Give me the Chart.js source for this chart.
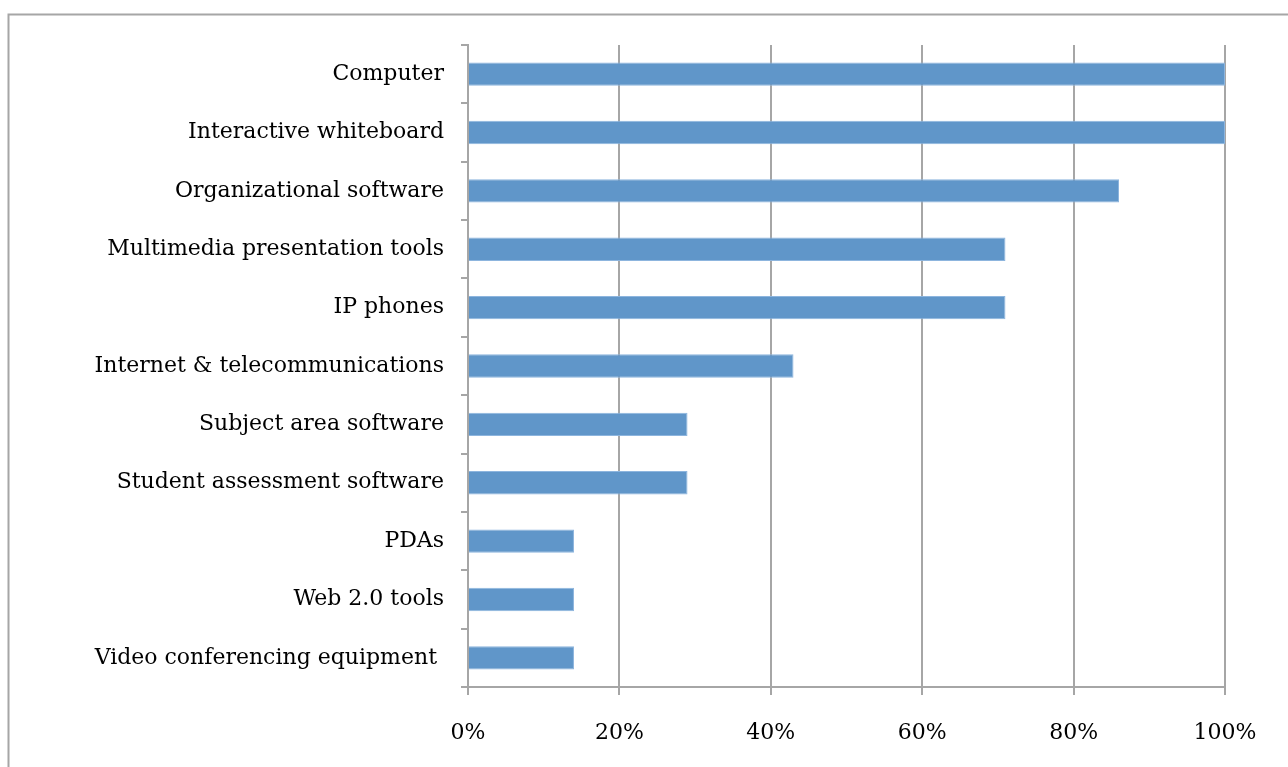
<!DOCTYPE html>
<html>
<head>
<meta charset="utf-8">
<script src="https://cdn.jsdelivr.net/npm/chart.js@4"></script>
<style>
    html, body { margin: 0; padding: 0; background: #fff; overflow: hidden; }
    #wrap { position: relative; width: 1288px; height: 767px; }
</style>
</head>
<body>
<div id="wrap"><canvas id="techChart" width="1288" height="767"></canvas></div>
<script>
// Technology use, share of respondents
const categories = [
    'Computer',
    'Interactive whiteboard',
    'Organizational software',
    'Multimedia presentation tools',
    'IP phones',
    'Internet & telecommunications',
    'Subject area software',
    'Student assessment software',
    'PDAs',
    'Web 2.0 tools',
    'Video conferencing equipment '
];
const shares = [100, 100, 86, 71, 71, 43, 29, 29, 14, 14, 14];
const tickValues = [0, 20, 40, 60, 80, 100];

const GRID = '#a6a6a6';
const FONT = { family: '"DejaVu Serif", serif', size: 22 };

// grey frame around the whole chart
const framePlugin = {
    id: 'frame',
    beforeDraw(chart) {
        const ctx = chart.ctx;
        ctx.save();
        ctx.strokeStyle = GRID;
        ctx.lineWidth = 2;
        ctx.strokeRect(8.5, 14.5, 1400, 900);
        ctx.restore();
    }
};

new Chart(document.getElementById('techChart'), {
    type: 'bar',
    data: {
        labels: categories,
        datasets: [{
            data: shares,
            backgroundColor: '#6096c9',
            borderColor: '#8db5de',
            borderWidth: 1,
            borderSkipped: 'left',
            barPercentage: 0.4,
            categoryPercentage: 1
        }]
    },
    options: {
        indexAxis: 'y',
        responsive: false,
        animation: false,
        layout: { padding: { top: 45, right: 63, left: 0, bottom: 0 } },
        plugins: { legend: { display: false }, tooltip: { enabled: false } },
        scales: {
            x: {
                min: 0,
                max: 100,
                afterBuildTicks: s => { s.ticks = tickValues.map(v => ({ value: v })); },
                afterFit: s => { s.height = 80; },
                ticks: {
                    color: '#000',
                    font: FONT,
                    padding: 25,
                    maxRotation: 0,
                    callback: v => v + '%'
                },
                grid: { color: GRID, lineWidth: 2, tickLength: 8 },
                border: { color: GRID, width: 2 }
            },
            y: {
                afterFit: s => { s.width = 468; },
                ticks: { color: '#000', font: FONT, padding: 17 },
                grid: { drawOnChartArea: false, color: GRID, lineWidth: 2, tickLength: 7, offset: true },
                border: { color: GRID, width: 2 }
            }
        }
    },
    plugins: [framePlugin]
});
</script>
</body>
</html>
